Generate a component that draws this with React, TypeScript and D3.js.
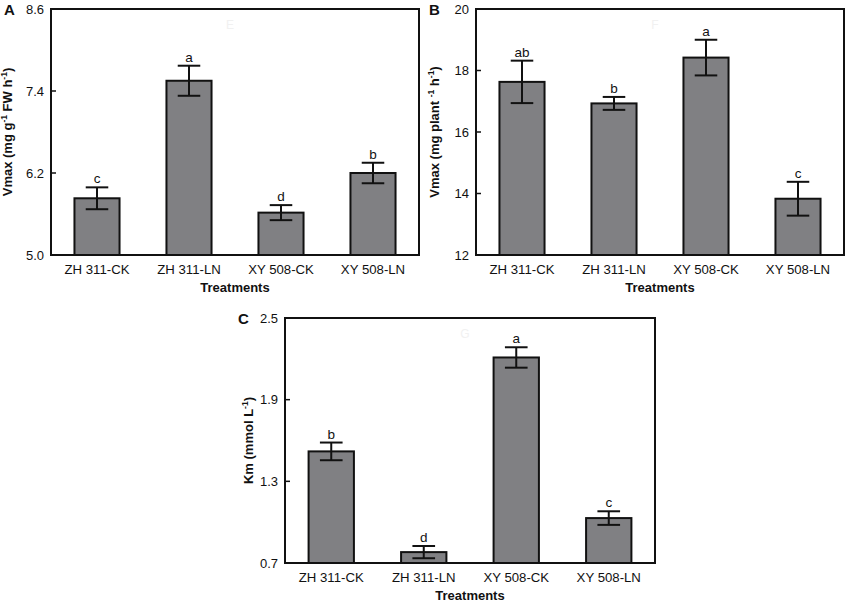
import React from "react";
import * as d3 from "d3";

const categories = ["ZH 311-CK", "ZH 311-LN", "XY 508-CK", "XY 508-LN"];

const vmaxFW = [5.83, 7.55, 5.62, 6.2];
const vmaxFWErr = [0.16, 0.22, 0.11, 0.15];
const lettersA = ["c", "a", "d", "b"];
const ticksA = [5.0, 6.2, 7.4, 8.6];

const vmaxPlant = [17.63, 16.93, 18.42, 13.83];
const vmaxPlantErr = [0.69, 0.21, 0.58, 0.55];
const lettersB = ["ab", "b", "a", "c"];
const ticksB = [12, 14, 16, 18, 20];

const km = [1.52, 0.78, 2.21, 1.03];
const kmErr = [0.065, 0.045, 0.075, 0.05];
const lettersC = ["b", "d", "a", "c"];
const ticksC = [0.7, 1.3, 1.9, 2.5];

const FONT = "'Liberation Sans', Arial, sans-serif";

type YLabelPart = { t: string; sup?: boolean };

type PanelProps = {
  tag: string;
  watermark: string;
  left: number;
  right: number;
  top: number;
  bottom: number;
  values: number[];
  errors: number[];
  letters: string[];
  ticks: number[];
  fmt: (v: number) => string;
  yLabel: YLabelPart[];
  yLabelX: number;
};

function Panel(p: PanelProps) {
  const x = d3
    .scaleBand<string>()
    .domain(categories)
    .range([p.left, p.right])
    .paddingInner(0.51)
    .paddingOuter(0.255);
  const y = d3
    .scaleLinear()
    .domain([p.ticks[0], p.ticks[p.ticks.length - 1]])
    .range([p.bottom, p.top]);
  const bw = x.bandwidth();
  const cap = bw * 0.25;
  const midY = (p.top + p.bottom) / 2;
  return (
    <g fontFamily={FONT}>
      <text
        x={(p.left + p.right) / 2 - 5}
        y={p.top + 20}
        fontSize={12}
        fill="#f1f1f1"
        textAnchor="middle"
      >
        {p.watermark}
      </text>
      {categories.map((c, i) => {
        const x0 = x(c) as number;
        const v = p.values[i];
        const e = p.errors[i];
        const cx = x0 + bw / 2;
        return (
          <g key={c}>
            <rect
              x={x0}
              y={y(v)}
              width={bw}
              height={p.bottom - y(v)}
              fill="#808083"
              stroke="#111"
              strokeWidth={2}
            />
            <g stroke="#111" strokeWidth={2}>
              <line x1={cx} x2={cx} y1={y(v + e)} y2={y(v - e)} />
              <line x1={cx - cap} x2={cx + cap} y1={y(v + e)} y2={y(v + e)} />
              <line x1={cx - cap} x2={cx + cap} y1={y(v - e)} y2={y(v - e)} />
            </g>
            <text
              x={cx}
              y={y(v + e) - 4}
              fontSize={13.5}
              textAnchor="middle"
              fill="#111"
            >
              {p.letters[i]}
            </text>
            <text
              x={cx}
              y={p.bottom + 19}
              fontSize={13.2}
              textAnchor="middle"
              fill="#111"
            >
              {c}
            </text>
          </g>
        );
      })}
      {p.ticks.map((t) => (
        <g key={t}>
          <line
            x1={p.left}
            x2={p.left + 5}
            y1={y(t)}
            y2={y(t)}
            stroke="#111"
            strokeWidth={1.5}
          />
          <text
            x={p.left - 7}
            y={y(t)}
            dy="0.35em"
            fontSize={13}
            textAnchor="end"
            fill="#111"
          >
            {p.fmt(t)}
          </text>
        </g>
      ))}
      <rect
        x={p.left}
        y={p.top}
        width={p.right - p.left}
        height={p.bottom - p.top}
        fill="none"
        stroke="#111"
        strokeWidth={2}
      />
      <text
        x={(p.left + p.right) / 2}
        y={p.bottom + 37}
        fontSize={13}
        fontWeight="bold"
        textAnchor="middle"
        fill="#111"
      >
        Treatments
      </text>
      <text
        transform={`translate(${p.yLabelX},${midY}) rotate(-90)`}
        fontSize={13}
        fontWeight="bold"
        textAnchor="middle"
        fill="#111"
      >
        {p.yLabel.map((part, k) =>
          part.sup ? (
            <tspan key={k} fontSize={8.5} dy={-5}>
              {part.t}
            </tspan>
          ) : (
            <tspan key={k} dy={k > 0 && p.yLabel[k - 1].sup ? 5 : 0}>
              {part.t}
            </tspan>
          )
        )}
      </text>
      <text
        x={p.left - 47}
        y={p.top + 6}
        fontSize={15}
        fontWeight="bold"
        fill="#111"
      >
        {p.tag}
      </text>
    </g>
  );
}

export default function App() {
  const f1 = d3.format(".1f");
  const f0 = d3.format("d");
  return (
    <svg
      width={850}
      height={604}
      style={{ position: "absolute", left: 0, top: 0, background: "#fff" }}
    >
      <rect width={850} height={604} fill="#fff" />
      <Panel
        tag="A"
        watermark="E"
        left={51}
        right={419}
        top={9}
        bottom={255}
        values={vmaxFW}
        errors={vmaxFWErr}
        letters={lettersA}
        ticks={ticksA}
        fmt={f1}
        yLabelX={12}
        yLabel={[
          { t: "Vmax (mg g" },
          { t: "-1", sup: true },
          { t: " FW h" },
          { t: "-1", sup: true },
          { t: ")" },
        ]}
      />
      <Panel
        tag="B"
        watermark="F"
        left={476}
        right={844}
        top={9}
        bottom={255}
        values={vmaxPlant}
        errors={vmaxPlantErr}
        letters={lettersB}
        ticks={ticksB}
        fmt={f0}
        yLabelX={439}
        yLabel={[
          { t: "Vmax (mg plant " },
          { t: "-1", sup: true },
          { t: " h" },
          { t: "-1", sup: true },
          { t: ")" },
        ]}
      />
      <Panel
        tag="C"
        watermark="G"
        left={285}
        right={655}
        top={318}
        bottom={563}
        values={km}
        errors={kmErr}
        letters={lettersC}
        ticks={ticksC}
        fmt={f1}
        yLabelX={253}
        yLabel={[{ t: "Km (mmol L" }, { t: "-1", sup: true }, { t: ")" }]}
      />
    </svg>
  );
}
